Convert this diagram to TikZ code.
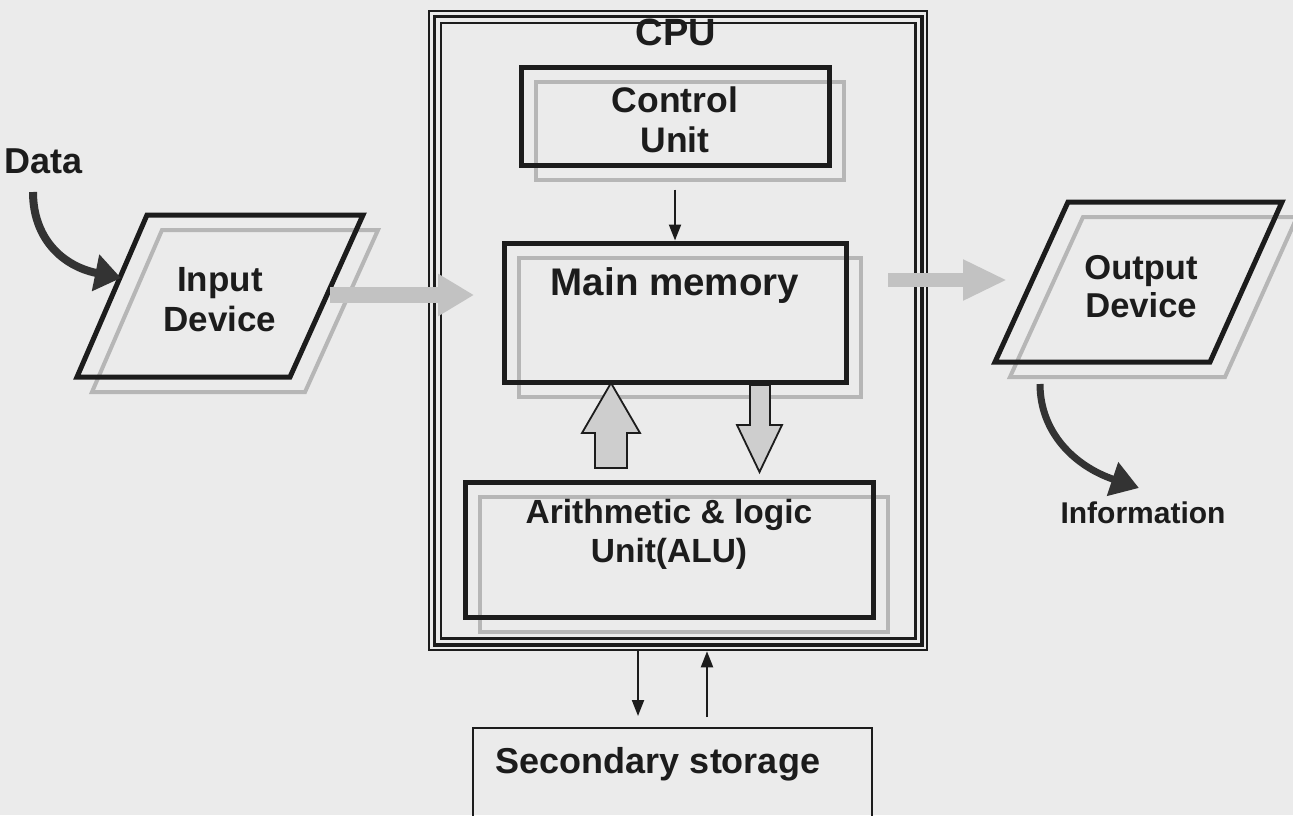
\documentclass[tikz,border=0pt]{standalone}
\usepackage{fontspec}
\setmainfont{Liberation Sans}
\usepackage{tikz}
\usetikzlibrary{arrows.meta}
\usetikzlibrary{shadows}
\usetikzlibrary{positioning}

\definecolor{ink}{HTML}{1C1C1C}
\definecolor{paper}{HTML}{EBEBEB}
\definecolor{shade}{HTML}{B6B6B6}
\definecolor{flowgray}{HTML}{C2C2C2}

\newcommand{\txtsize}[2]{\fontsize{#1}{#2}\selectfont\bfseries}

\tikzset{
    unitbox/.style={draw=ink, line width=5pt, inner sep=0pt},
    boxshadow/.style={general shadow={draw=shade, line width=4pt, shadow xshift=15pt, shadow yshift=-15pt}},
    label text/.style={text=ink, align=center},
    wire/.style={draw=ink, line width=2pt, -{Triangle[length=16pt,width=12pt]}},
    flow/.style={draw=flowgray},
    hollow/.style={draw=ink, line width=1.8pt, fill=flowgray!80, line join=miter},
    bigcurve/.style={draw=ink!90, line width=8pt}
}

\begin{document}
\begin{tikzpicture}[x=1pt, y=-1pt]

    \useasboundingbox (0,0) rectangle (1293,815);
    \fill[paper] (0,0) rectangle (1293,815);

    % CPU frame, three lines
    \node[draw=ink, line width=2.5pt, minimum width=498pt, minimum height=639pt] (cpubox) at (678,330.5) {};
    \draw[ink, line width=3.5pt] ([shift={(6.5,6.5)}]cpubox.north west) rectangle ([shift={(-6.5,-6.5)}]cpubox.south east);
    \draw[ink, line width=2.5pt] ([shift={(13,13)}]cpubox.north west) rectangle ([shift={(-13,-13)}]cpubox.south east);
    \node[label text, font=\txtsize{38}{40}, anchor=base] (cpu) at (676,45) {CPU};

    % units inside the CPU
    \node[unitbox, boxshadow, minimum width=308pt, minimum height=98pt] (cu) at (675,116) {};
    \node[label text, font=\txtsize{35.5}{40}] (cutxt) at (675,120) {Control\\Unit};

    \node[unitbox, boxshadow, minimum width=342pt, minimum height=139pt] (mem) at (675,312.5) {};
    \node[label text, font=\txtsize{38.5}{44}, anchor=base] (memtxt) at (675,295) {Main memory};

    \node[unitbox, boxshadow, minimum width=408pt, minimum height=135pt] (alu) at (669,549.5) {};
    \node[label text, font=\txtsize{33.5}{39}] (alutxt) at (669,534) {Arithmetic \& logic\\Unit(ALU)};

    \draw[wire, shorten <=22pt] (cu.south) -- (mem.north);

    % memory <-> ALU
    \draw[hollow] (595,468) -- (595,433) -- (582,433) -- (611,383) -- (640,433) -- (627,433) -- (627,468) -- cycle;
    \draw[hollow] (750,385) -- (750,425) -- (737,425) -- (759.5,472) -- (782,425) -- (770,425) -- (770,385) -- cycle;

    % secondary storage
    \node[draw=ink, line width=2pt, minimum width=399pt, minimum height=120pt] (sec) at (672.5,788) {};
    \node[label text, font=\txtsize{36}{40}, anchor=base] (sectxt) at (658,773) {Secondary storage};
    \coordinate (sdown) at ([xshift=-34.5pt]sec.north);
    \coordinate (sup) at ([xshift=34.5pt]sec.north);
    \draw[wire, shorten >=11pt] (sdown |- cpubox.south) -- (sdown);
    \draw[wire, shorten <=10pt] (sup) -- (sup |- cpubox.south);

    % input side
    \draw[ink, line width=5pt, line join=miter, boxshadow] (147,215) -- (363,215) -- (290,377) -- (77,377) -- cycle;
    \node[label text, font=\txtsize{35}{40}] (in) at (220,300) {Input\\Device};
    \node[label text, font=\txtsize{36}{40}, anchor=base] (data) at (44,173) {Data};
    \coordinate (datatail) at (33,192);
    \coordinate (inleft) at (121,278);
    \draw[bigcurve, -{Triangle[length=26pt,width=36pt]}] (datatail) .. controls (33,238) and (62,266) .. (inleft);

    \coordinate (inright) at (330,295);
    \coordinate (cpuleft) at (474,295);
    \draw[flow, line width=16pt, -{Triangle[length=36pt,width=40pt]}] (inright) -- (cpuleft);

    % output side
    \draw[ink, line width=5pt, line join=miter, boxshadow] (1068,202) -- (1282,202) -- (1210,362) -- (995,362) -- cycle;
    \node[label text, font=\txtsize{34.5}{38}] (out) at (1141,287) {Output\\Device};

    \coordinate (cpuright) at (888,280);
    \coordinate (outleft) at (1007,280);
    \draw[flow, line width=14pt, -{Triangle[length=44pt,width=38pt]}] (cpuright) -- (outleft);

    \node[label text, font=\txtsize{30}{34}, anchor=base] (info) at (1143,523) {Information};
    \coordinate (outtail) at (1040,384);
    \coordinate (infotip) at (1139,488);
    \draw[bigcurve, line width=7pt, -{Triangle[length=28pt,width=34pt]}] (outtail) .. controls (1040,432) and (1074,466) .. (infotip);

\end{tikzpicture}
\end{document}
